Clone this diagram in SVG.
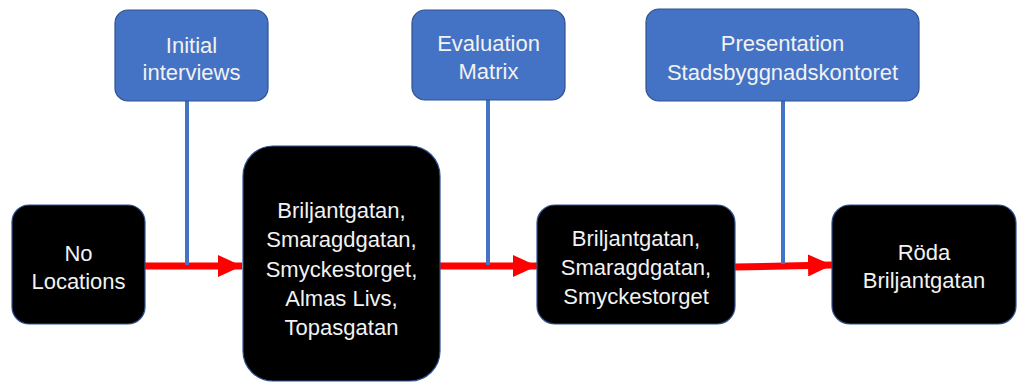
<svg xmlns="http://www.w3.org/2000/svg" width="1018" height="383" viewBox="0 0 1018 383">
<style>
.blk{fill:#000;stroke:#2F528F;stroke-width:1.2}
.blu{fill:#4472C4;stroke:#2F528F;stroke-width:1.2}
.t{font-family:"Liberation Sans",Arial,sans-serif;font-size:22px;fill:#F2F2F2;text-anchor:middle}
.vl{stroke:#4472C4;stroke-width:4;fill:none}
.ar{stroke:#FF0000;stroke-width:7;fill:none;marker-end:url(#ah)}
</style>
<defs>
<marker id="ah" markerUnits="userSpaceOnUse" markerWidth="24" markerHeight="22" refX="24" refY="11" orient="auto">
<path d="M0,0 L24,11 L0,22 Z" fill="#FF0000"/>
</marker>
</defs>
<g id="connectors">
<path class="ar" d="M145,266 L242,266"/>
<path class="ar" d="M440,266 L537,266"/>
<path class="ar" d="M735,267 L832,265"/>
<path class="vl" d="M187,101 L187,265"/>
<path class="vl" d="M488,100 L488,265"/>
<path class="vl" d="M783,101 L783,264"/>
</g>
<g id="n1"><rect class="blk" x="12" y="205" width="133" height="119" rx="17"/>
<text class="t" x="78.5" y="261">No</text><text class="t" x="78.5" y="289">Locations</text></g>
<g id="n2"><rect class="blk" x="243" y="146" width="197" height="235" rx="30"/>
<text class="t" x="341.5" y="218">Briljantgatan,</text>
<text class="t" x="341.5" y="247">Smaragdgatan,</text>
<text class="t" x="341.5" y="276.5">Smyckestorget,</text>
<text class="t" x="341.5" y="306">Almas Livs,</text>
<text class="t" x="341.5" y="335">Topasgatan</text></g>
<g id="n3"><rect class="blk" x="537" y="205" width="198" height="119" rx="18"/>
<text class="t" x="636" y="246">Briljantgatan,</text>
<text class="t" x="636" y="275">Smaragdgatan,</text>
<text class="t" x="636" y="304">Smyckestorget</text></g>
<g id="n4"><rect class="blk" x="832" y="205" width="184" height="119" rx="18"/>
<text class="t" x="924" y="260">Röda</text><text class="t" x="924" y="288">Briljantgatan</text></g>
<g id="b1"><rect class="blu" x="115" y="10" width="153" height="91" rx="13"/>
<text class="t" x="191.5" y="53">Initial</text><text class="t" x="191.5" y="80">interviews</text></g>
<g id="b2"><rect class="blu" x="412" y="10" width="153" height="90" rx="13"/>
<text class="t" x="488.5" y="51">Evaluation</text><text class="t" x="488.5" y="79">Matrix</text></g>
<g id="b3"><rect class="blu" x="646" y="9" width="273" height="92" rx="13"/>
<text class="t" x="782.5" y="51">Presentation</text><text class="t" x="782.5" y="80">Stadsbyggnadskontoret</text></g>
</svg>
